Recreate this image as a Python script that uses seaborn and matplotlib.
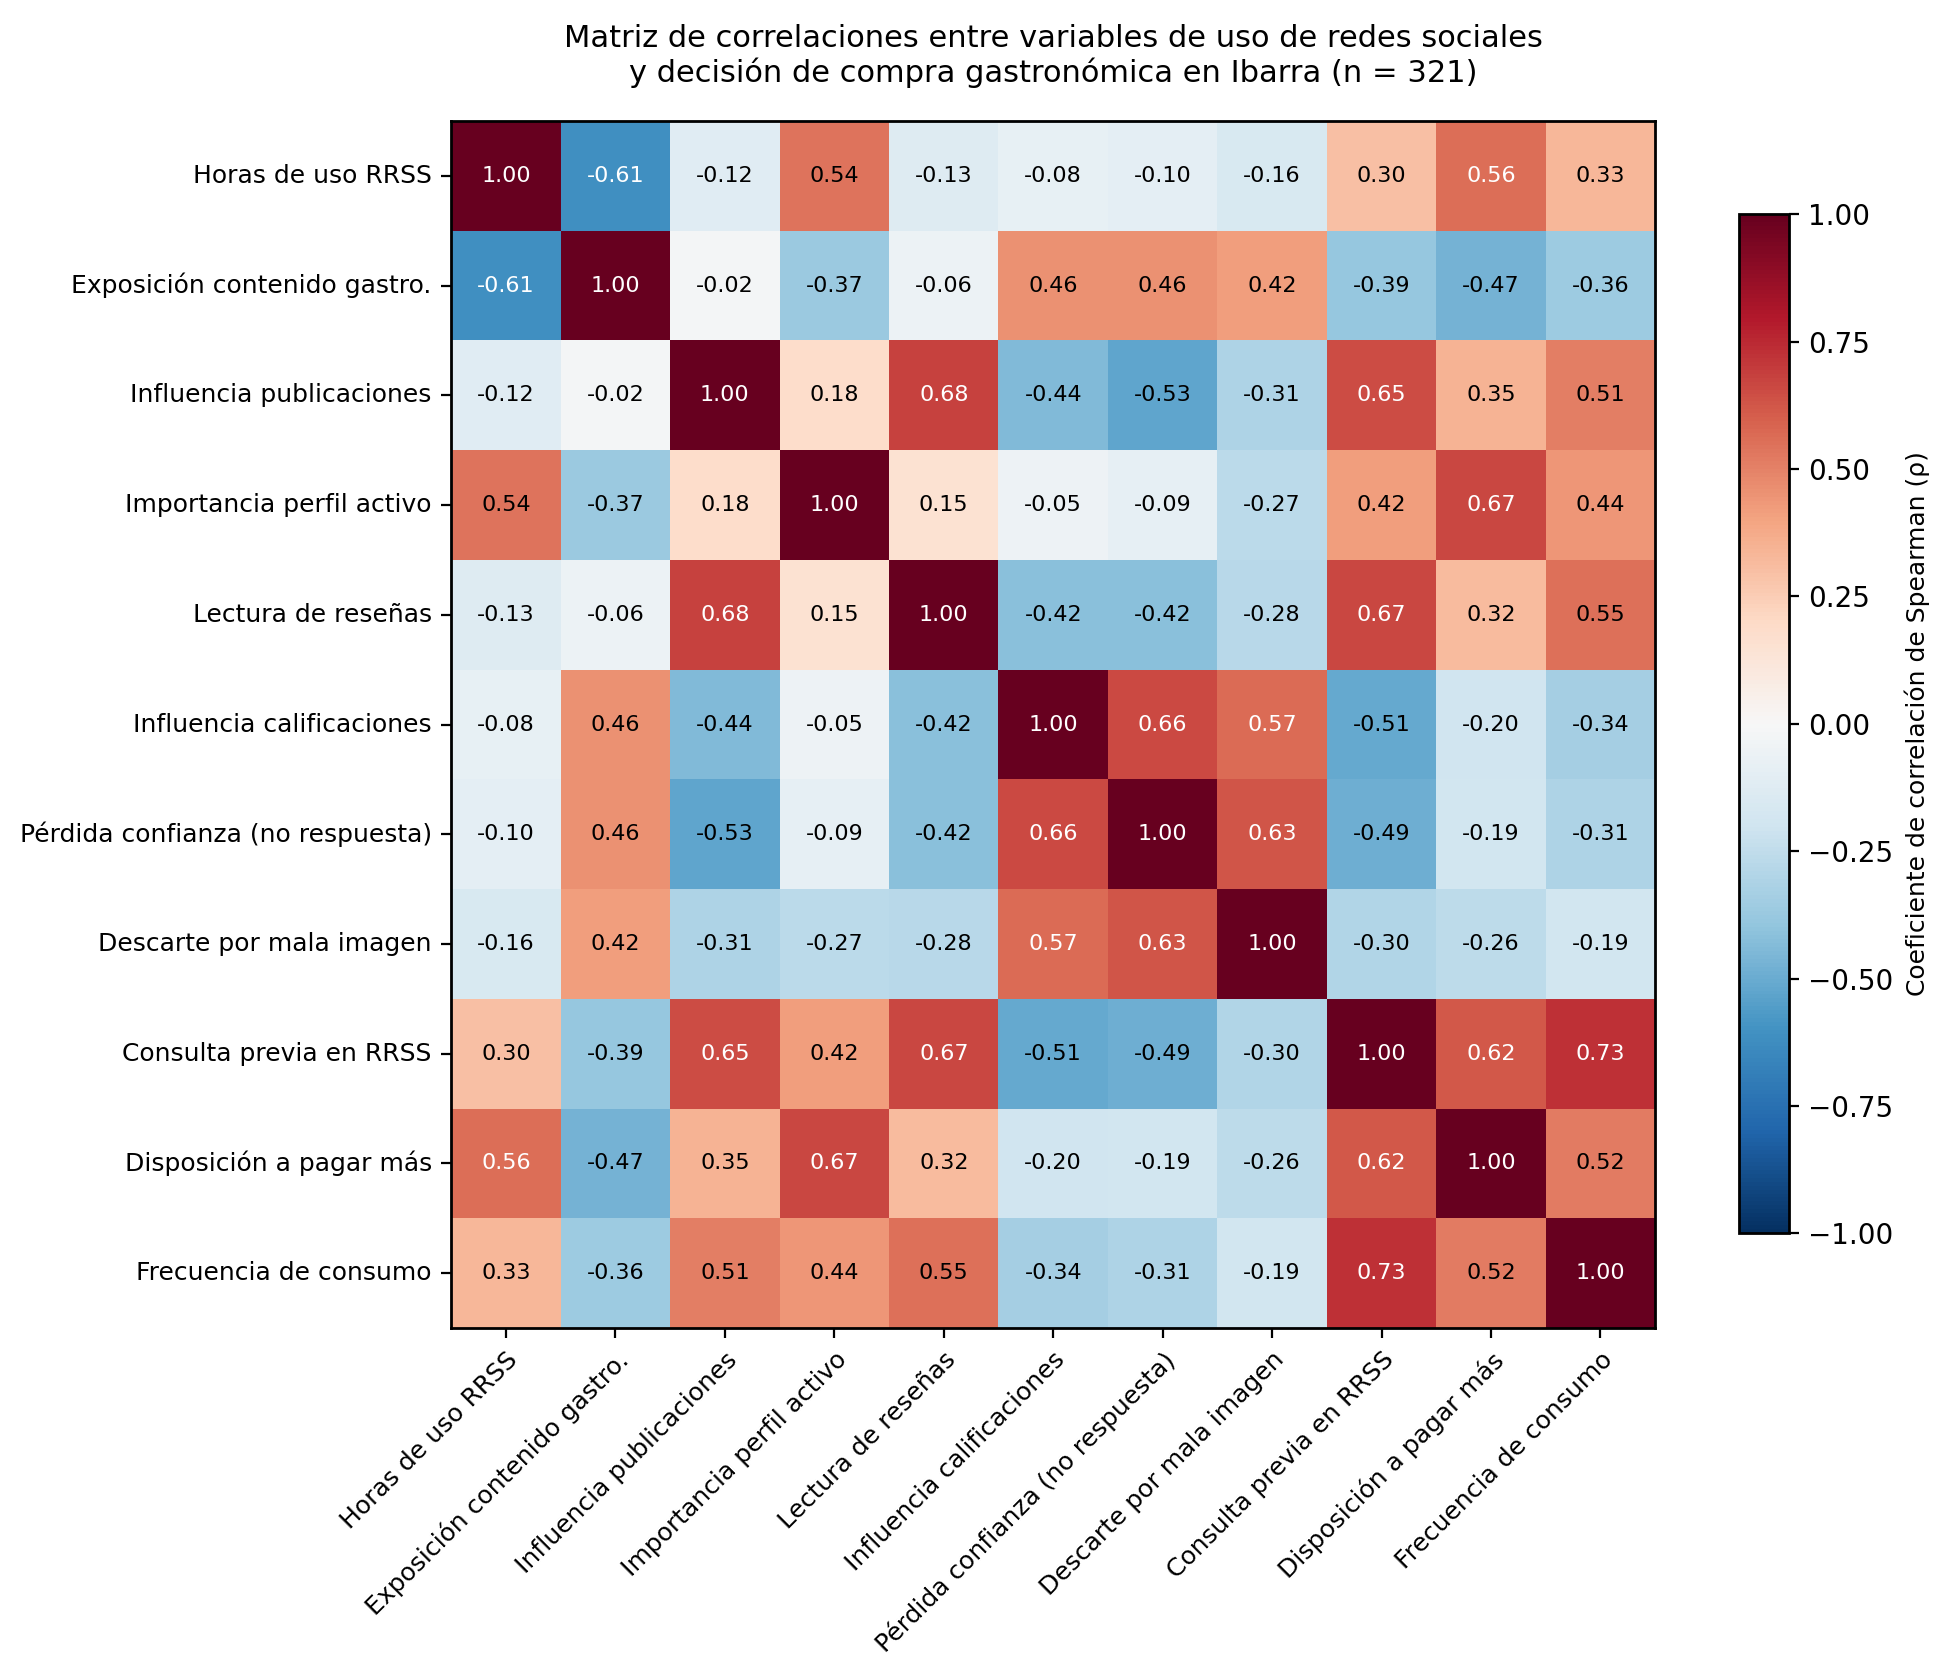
import numpy as np
import pandas as pd
import matplotlib
matplotlib.use("Agg")
import matplotlib.pyplot as plt
import seaborn as sns

variables = [
    "Horas de uso RRSS",
    "Exposición contenido gastro.",
    "Influencia publicaciones",
    "Importancia perfil activo",
    "Lectura de reseñas",
    "Influencia calificaciones",
    "Pérdida confianza (no respuesta)",
    "Descarte por mala imagen",
    "Consulta previa en RRSS",
    "Disposición a pagar más",
    "Frecuencia de consumo",
]

row_horas = [1.00, -0.61, -0.12, 0.54, -0.13, -0.08, -0.10, -0.16, 0.30, 0.56, 0.33]
row_exposicion = [-0.61, 1.00, -0.02, -0.37, -0.06, 0.46, 0.46, 0.42, -0.39, -0.47, -0.36]
row_influencia_pub = [-0.12, -0.02, 1.00, 0.18, 0.68, -0.44, -0.53, -0.31, 0.65, 0.35, 0.51]
row_importancia = [0.54, -0.37, 0.18, 1.00, 0.15, -0.05, -0.09, -0.27, 0.42, 0.67, 0.44]
row_lectura = [-0.13, -0.06, 0.68, 0.15, 1.00, -0.42, -0.42, -0.28, 0.67, 0.32, 0.55]
row_influencia_cal = [-0.08, 0.46, -0.44, -0.05, -0.42, 1.00, 0.66, 0.57, -0.51, -0.20, -0.34]
row_perdida = [-0.10, 0.46, -0.53, -0.09, -0.42, 0.66, 1.00, 0.63, -0.49, -0.19, -0.31]
row_descarte = [-0.16, 0.42, -0.31, -0.27, -0.28, 0.57, 0.63, 1.00, -0.30, -0.26, -0.19]
row_consulta = [0.30, -0.39, 0.65, 0.42, 0.67, -0.51, -0.49, -0.30, 1.00, 0.62, 0.73]
row_disposicion = [0.56, -0.47, 0.35, 0.67, 0.32, -0.20, -0.19, -0.26, 0.62, 1.00, 0.52]
row_frecuencia = [0.33, -0.36, 0.51, 0.44, 0.55, -0.34, -0.31, -0.19, 0.73, 0.52, 1.00]

cbar_ticks = [-1.00, -0.75, -0.50, -0.25, 0.00, 0.25, 0.50, 0.75, 1.00]

matrix = pd.DataFrame(
    [row_horas, row_exposicion, row_influencia_pub, row_importancia, row_lectura,
     row_influencia_cal, row_perdida, row_descarte, row_consulta, row_disposicion,
     row_frecuencia],
    index=variables, columns=variables)

plt.rcParams['font.family'] = ['DejaVu Sans']

fig = plt.figure(figsize=(9.725, 8.375), dpi=200)
ax = fig.add_axes([0.232, 0.2071, 0.619, 0.7207])
cax = fig.add_axes([0.894, 0.2637, 0.0257, 0.6083])

sns.heatmap(matrix, ax=ax, cbar_ax=cax, cmap="RdBu_r", vmin=-1, vmax=1,
            annot=True, fmt=".2f", annot_kws={"fontsize": 8},
            square=False, linewidths=0)

vals = matrix.values.ravel()
for txt, v in zip(ax.texts, vals):
    txt.set_color("white" if abs(v) > 0.555 else "black")

for sp in ax.spines.values():
    sp.set_visible(True)
    sp.set_linewidth(1.0)
    sp.set_color("black")

ax.tick_params(axis="both", which="major", length=3.5, width=0.8, labelsize=9)
ax.set_xticklabels(variables, rotation=45, ha="right", rotation_mode="anchor", fontsize=9)
ax.set_yticklabels(variables, rotation=0, fontsize=9)
ax.set_xlabel("")
ax.set_ylabel("")

ax.set_title("Matriz de correlaciones entre variables de uso de redes sociales\n"
             "y decisión de compra gastronómica en Ibarra (n = 321)",
             fontsize=11, pad=14)

cbar = ax.collections[0].colorbar
cbar.outline.set_visible(True)
cbar.outline.set_linewidth(1.0)
cbar.outline.set_edgecolor("black")
cbar.set_ticks(cbar_ticks)
cbar.ax.set_yticklabels([f"{t:.2f}".replace("-", "\u2212") for t in cbar_ticks])
cbar.ax.tick_params(labelsize=10, length=3.5, width=0.8)
cbar.set_label("Coeficiente de correlación de Spearman (ρ)", fontsize=9)

fig.savefig("out.png", dpi=200)
